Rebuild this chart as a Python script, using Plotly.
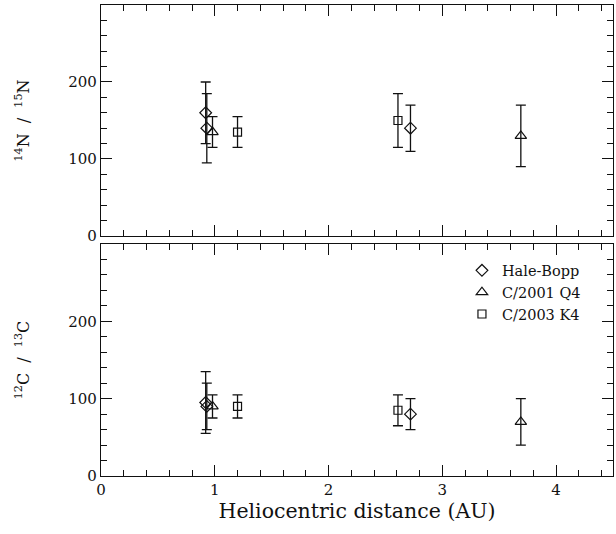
import plotly.graph_objects as go

# ---- data ----
series_names = ["Hale-Bopp", "C/2001 Q4", "C/2003 K4"]
symbols = ["diamond-open", "triangle-up-open", "square-open"]
marker_sizes = [9, 10, 8]

# 14N/15N
n_hb_x = [0.92, 0.93, 2.72]
n_hb_y = [160, 140, 140]
n_hb_err = [40, 45, 30]
n_q4_x = [0.98, 3.69]
n_q4_y = [135, 130]
n_q4_err = [20, 40]
n_k4_x = [1.20, 2.61]
n_k4_y = [135, 150]
n_k4_err = [20, 35]

# 12C/13C
c_hb_x = [0.92, 0.93, 2.72]
c_hb_y = [95, 90, 80]
c_hb_err = [40, 30, 20]
c_q4_x = [0.98, 3.69]
c_q4_y = [90, 70]
c_q4_err = [15, 30]
c_k4_x = [1.20, 2.61]
c_k4_y = [90, 85]
c_k4_err = [15, 20]

x_range = [0, 4.5]
y_range = [0, 300]
y_tickvals = [0, 100, 200, 300]
y_ticktext = ["0", "100", "200", ""]
x_title = "Heliocentric distance (AU)"
y_title_top = "<sup>14</sup>N  /  <sup>15</sup>N"
y_title_bottom = "<sup>12</sup>C  /  <sup>13</sup>C"

FONT = "DejaVu Serif"
INK = "#111111"

fig = go.Figure()

top = [(n_hb_x, n_hb_y, n_hb_err), (n_q4_x, n_q4_y, n_q4_err), (n_k4_x, n_k4_y, n_k4_err)]
bot = [(c_hb_x, c_hb_y, c_hb_err), (c_q4_x, c_q4_y, c_q4_err), (c_k4_x, c_k4_y, c_k4_err)]

for i, (xs, ys, es) in enumerate(top):
    fig.add_trace(go.Scatter(
        x=xs, y=ys, mode="markers", name=series_names[i], legendgroup=series_names[i],
        showlegend=False, xaxis="x2", yaxis="y2",
        marker=dict(symbol=symbols[i], size=marker_sizes[i], color=INK, line=dict(width=1.2, color=INK)),
        error_y=dict(type="data", array=es, visible=True, color=INK, thickness=1.3, width=5),
    ))
for i, (xs, ys, es) in enumerate(bot):
    fig.add_trace(go.Scatter(
        x=xs, y=ys, mode="markers", name=series_names[i], legendgroup=series_names[i],
        showlegend=True, xaxis="x", yaxis="y",
        marker=dict(symbol=symbols[i], size=marker_sizes[i], color=INK, line=dict(width=1.2, color=INK)),
        error_y=dict(type="data", array=es, visible=True, color=INK, thickness=1.3, width=5),
    ))

def axis_base():
    return dict(
        showline=True, linecolor=INK, linewidth=1.3, mirror="ticks",
        ticks="inside", ticklen=11, tickwidth=1.2, tickcolor=INK,
        showgrid=False, zeroline=False, automargin=False,
        tickfont=dict(family=FONT, size=15, color=INK),
    )

xminor = dict(dtick=0.2, tick0=0, ticklen=6, tickwidth=1.1, tickcolor=INK, ticks="inside")
yminor = dict(dtick=20, tick0=0, ticklen=6, tickwidth=1.1, tickcolor=INK, ticks="inside")

fig.update_layout(
    width=616, height=534,
    margin=dict(l=101, r=3, t=5, b=58),
    paper_bgcolor="white", plot_bgcolor="white",
    font=dict(family=FONT, color=INK),
    xaxis=dict(range=x_range, dtick=1, tick0=0, anchor="y", minor=xminor,
               title=dict(text=x_title, font=dict(family=FONT, size=20.5, color=INK), standoff=4),
               **axis_base()),
    xaxis2=dict(range=x_range, dtick=1, tick0=0, anchor="y2", matches="x", showticklabels=False,
                minor=xminor, **axis_base()),
    yaxis=dict(range=y_range, tickvals=y_tickvals, ticktext=y_ticktext, domain=[0, 0.4926], anchor="x",
               minor=yminor,
               title=dict(text=y_title_bottom, font=dict(family=FONT, size=16, color=INK), standoff=34),
               **axis_base()),
    yaxis2=dict(range=y_range, tickvals=y_tickvals, ticktext=y_ticktext, domain=[0.5096, 1], anchor="x2",
                minor=yminor,
                title=dict(text=y_title_top, font=dict(family=FONT, size=16, color=INK), standoff=34),
                **axis_base()),
    legend=dict(x=0.705, y=0.4705, xanchor="left", yanchor="top", bgcolor="rgba(0,0,0,0)",
                font=dict(family=FONT, size=14.5, color=INK), tracegroupgap=0, itemwidth=30),
    showlegend=True,
)

fig.write_html("out.html", config={"displayModeBar": False},
               post_script="document.body.style.margin='0px';")
